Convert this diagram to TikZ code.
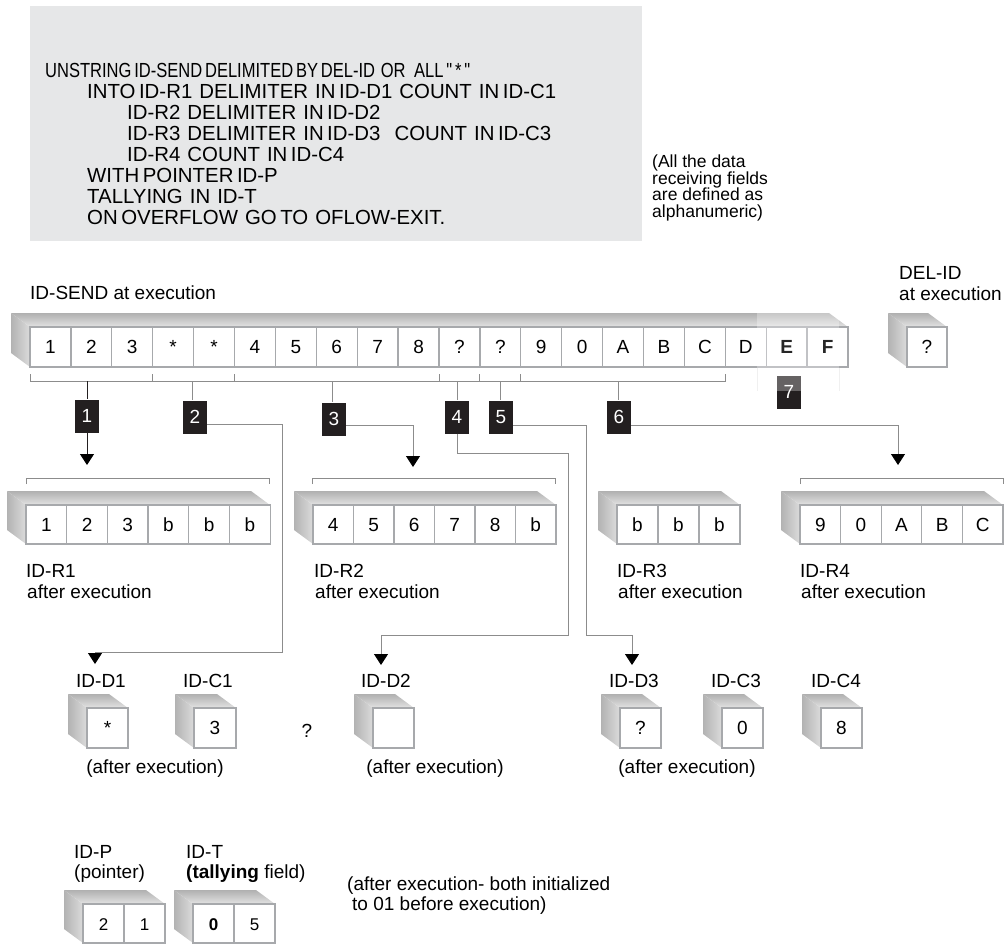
\documentclass[tikz,border=0pt]{standalone}
\usepackage{fontspec}
\setmainfont{Liberation Sans}
\newfontfamily\codefont[WordSpace=0.62]{Liberation Sans}
\newfontfamily\codefontnarrow[WordSpace=0.62,FakeStretch=0.81]{Liberation Sans}
\usetikzlibrary{arrows.meta,calc}
\definecolor{boxgray}{HTML}{E6E7E8}
\definecolor{linegray}{HTML}{8C8C8C}
\definecolor{cellgray}{HTML}{A7A9AC}
\definecolor{lblack}{HTML}{231F20}
\newcommand\mycube[4]{%
  \shade[left color=gray!60, right color=gray!28] ({#1-19},{#2-14}) -- (#1,#2) -- (#1,{#2+#4}) -- ({#1-19},{#2+#4-14}) -- cycle;
  \shade[top color=gray!62, bottom color=gray!22] ({#1-19},{#2-14}) -- ({#1+#3-19},{#2-14}) -- ({#1+#3},#2) -- (#1,#2) -- cycle;
}
\begin{document}
\begin{tikzpicture}[x=1pt,y=-1pt,
  cell/.style={draw=cellgray, line width=1.3pt, fill=white, minimum width=40.9pt, minimum height=40pt, inner sep=0pt, text height=13.6pt, text depth=0pt, font=\fontsize{19}{19}\selectfont},
  lbl/.style={fill=lblack, text=white, minimum width=24pt, minimum height=33pt, inner sep=0pt, font=\fontsize{19}{19}\selectfont},
  lab/.style={inner sep=0pt, font=\fontsize{19}{21}\selectfont},
  note/.style={inner sep=0pt, font=\fontsize{17.5}{19}\selectfont},
  codeline/.style={anchor=base west, inner sep=0pt, font=\codefont\fontsize{20.4}{20}\selectfont},
  brk/.style={draw=linegray, line width=1pt},
  conn/.style={draw=linegray, line width=0.9pt},
  arr/.style={-{Triangle[width=14pt,length=11pt,color=black]}}]
\useasboundingbox (0,0) rectangle (1008,943);

% code box
\node[fill=boxgray, anchor=north west, minimum width=612pt, minimum height=235pt, inner sep=0pt] (code) at (30,6) {};
\node[codeline, font=\codefontnarrow\fontsize{20.4}{20}\selectfont] (l1) at (45,77.3) {UNSTRING ID-SEND DELIMITED BY DEL-ID\ \ OR\ \ \ ALL " * "};
\node[codeline] (l2) at (87,98.3) {INTO ID-R1\ \ DELIMITER\ \ IN ID-D1\ \ COUNT\ \ IN ID-C1};
\node[codeline] (l3) at (127,119.3) {ID-R2\ \ DELIMITER\ \ IN ID-D2};
\node[codeline] (l4) at (127,140.3) {ID-R3\ \ DELIMITER\ \ IN ID-D3\ \ \ \ COUNT\ \ IN ID-C3};
\node[codeline] (l5) at (127,161.3) {ID-R4\ \ COUNT\ \ IN ID-C4};
\node[codeline] (l6) at (87,182.3) {WITH POINTER ID-P};
\node[codeline] (l7) at (87,203.3) {TALLYING\ \ IN\ \ ID-T};
\node[codeline] (l8) at (87,224.3) {ON OVERFLOW\ \ GO TO\ \ OFLOW-EXIT.};

% right note
\node[note, anchor=base west] (n1) at (652,167.5) {(All the data};
\node[note, anchor=base west] (n2) at (652,184) {receiving fields};
\node[note, anchor=base west] (n3) at (652,200.5) {are defined as};
\node[note, anchor=base west] (n4) at (652,217) {alphanumeric)};

% ID-SEND
\node[lab, anchor=base west] (sendlab) at (30,299) {ID-SEND at execution};
\mycube{30}{327}{818}{40}
\foreach \t [count=\i] in {1,2,3,*,*,4,5,6,7,8,?,?,9,0,A,B,C,D,{},{}}
  \node[cell] (s\i) at ({30+40.9*(\i-0.5)},347) {\t};

% DEL-ID
\node[lab, anchor=base west] (dellab1) at (899,279) {DEL-ID};
\node[lab, anchor=base west] (dellab2) at (899,300) {at execution};
\mycube{907}{327}{40}{40}
\node[cell, minimum width=40pt] (del) at (927,347) {?};

% brackets under ID-SEND
\draw[brk] (30,374) -- (30,381) -- (725.3,381) -- (725.3,374);
\foreach \bx in {152.7,234.5,439,479.9,520.8} \draw[brk] (\bx,374) -- (\bx,381);
\coordinate (m1) at (87,381);
\coordinate (m2) at (192.5,381);
\coordinate (m3) at (332,381);
\coordinate (m4) at (457,381);
\coordinate (m5) at (500,381);
\coordinate (m6) at (618.5,381);

% label boxes
\node[lbl] (b1) at (87,416) {1};
\node[lbl] (b2) at (195,417) {2};
\node[lbl] (b3) at (334,419) {3};
\node[lbl] (b4) at (457,417) {4};
\node[lbl] (b5) at (501,417) {5};
\node[lbl] (b6) at (619,417) {6};
\node[lbl] (b7) at (789,392) {7};

\draw[line width=1pt, draw=lblack] (m1) -- (b1.north);
\draw[conn] (m2) -- (m2 |- b2.north);
\draw[conn] (m3) -- (m3 |- b3.north);
\draw[conn] (m4) -- (m4 |- b4.north);
\draw[conn] (m5) -- (m5 |- b5.north);
\draw[conn] (m6) -- (m6 |- b6.north);

% overlay on E F
\fill[white, opacity=0.3] (757,311) rectangle (839,391);
\draw[gray!12, line width=0.6pt] (757,368) -- (757,391) (839,368) -- (839,391);
\node[inner sep=0pt, text height=13.6pt, text depth=0pt, font=\bfseries\fontsize{19}{19}\selectfont, text=black!85] (eE) at (s19) {E};
\node[inner sep=0pt, text height=13.6pt, text depth=0pt, font=\bfseries\fontsize{19}{19}\selectfont, text=black!85] (eF) at (s20) {F};

% arrow targets
\coordinate (r1tip) at (87,465);
\coordinate (r2tip) at (413,467);
\coordinate (r4tip) at (898,465);
\coordinate (k2) at (282,652);
\coordinate (d1tip) at (95,664);
\coordinate (k4a) at (568,453);
\coordinate (k4b) at (381,635);
\coordinate (d2tip) at (381,665);
\coordinate (k5) at (586,635);
\coordinate (d3tip) at (632,665);

\draw[line width=1pt, draw=lblack, arr] (b1.south) -- (r1tip);
\draw[conn, arr] ([yshift=-7pt]b2.east) -| (k2) -| (d1tip);
\draw[conn, arr] ([yshift=-6pt]b3.east) -| (r2tip);
\draw[conn, arr] (b4.south) |- (k4a) |- (k4b) -- (d2tip);
\draw[conn, arr] ([yshift=-8pt]b5.east) -| (k5) -| (d3tip);
\draw[conn, arr] ([yshift=-8.7pt]b6.east) -| (r4tip);

% R brackets
\draw[brk] (26,484) -- (26,478) -- (269,478) -- (269,484);
\draw[brk] (312,484) -- (312,478) -- (555,478) -- (555,484);
\draw[brk] (800,484) -- (800,478) -- (1003,478) -- (1003,484);

% R1
\mycube{26}{505}{244}{39}
\foreach \t [count=\i] in {1,2,3,b,b,b}
  \node[cell, minimum width=40.7pt, minimum height=39pt] (ra\i) at ({26+40.7*(\i-0.5)},524.5) {\t};
\node[lab, anchor=base west] (ra) at (26,577) {ID-R1};
\node[lab, anchor=base west] (rax) at (27,598) {after execution};
% R2
\mycube{313}{505}{243}{39}
\foreach \t [count=\i] in {4,5,6,7,8,b}
  \node[cell, minimum width=40.5pt, minimum height=39pt] (rb\i) at ({313+40.5*(\i-0.5)},524.5) {\t};
\node[lab, anchor=base west] (rb) at (314,577) {ID-R2};
\node[lab, anchor=base west] (rbx) at (315,598) {after execution};
% R3
\mycube{617}{505}{123}{39}
\foreach \t [count=\i] in {b,b,b}
  \node[cell, minimum width=41pt, minimum height=39pt] (rc\i) at ({617+41*(\i-0.5)},524.5) {\t};
\node[lab, anchor=base west] (rc) at (617,577) {ID-R3};
\node[lab, anchor=base west] (rcx) at (618,598) {after execution};
% R4
\mycube{800}{505}{203}{39}
\foreach \t [count=\i] in {9,0,A,B,C}
  \node[cell, minimum width=40.6pt, minimum height=39pt] (rd\i) at ({800+40.6*(\i-0.5)},524.5) {\t};
\node[lab, anchor=base west] (rd) at (800,577) {ID-R4};
\node[lab, anchor=base west] (rdx) at (801,598) {after execution};

% D / C cubes
\node[lab, anchor=base] (d1l) at (101,687.5) {ID-D1};
\mycube{87}{708}{41}{40}
\node[cell, minimum width=41pt] (d1) at (107.5,728) {*};
\node[lab, anchor=base] (c1l) at (208,687.5) {ID-C1};
\mycube{194}{708}{42}{40}
\node[cell, minimum width=42pt] (c1) at (215,728) {3};
\node[lab, anchor=base] (qm) at (307,737) {?};
\node[lab, anchor=base] (ae1) at (155,773) {(after execution)};

\node[lab, anchor=base] (d2l) at (386,687.5) {ID-D2};
\mycube{373}{708}{41}{40}
\node[cell, minimum width=41pt] (d2) at (393.5,728) {};
\node[lab, anchor=base] (ae2) at (435,773) {(after execution)};

\node[lab, anchor=base] (d3l) at (634,687.5) {ID-D3};
\mycube{620}{708}{41}{40}
\node[cell, minimum width=41pt] (d3) at (640.5,728) {?};
\node[lab, anchor=base] (c3l) at (736,687.5) {ID-C3};
\mycube{722}{708}{41}{40}
\node[cell, minimum width=41pt] (c3) at (742.5,728) {0};
\node[lab, anchor=base] (c4l) at (836,687.5) {ID-C4};
\mycube{821}{708}{41}{40}
\node[cell, minimum width=41pt] (c4) at (841.5,728) {8};
\node[lab, anchor=base] (ae3) at (687,773) {(after execution)};

% bottom
\node[lab, anchor=base west] (pl1) at (74,858.5) {ID-P};
\node[lab, anchor=base west] (pl2) at (74,878) {(pointer)};
\mycube{83}{904}{82}{39}
\node[cell, minimum width=41pt, minimum height=39pt, font=\fontsize{17}{17}\selectfont] (p1) at (103.5,923.5) {2};
\node[cell, minimum width=41pt, minimum height=39pt, font=\fontsize{17}{17}\selectfont] (p2) at (144.5,923.5) {1};
\node[lab, anchor=base west] (tl1) at (186,858.5) {ID-T};
\node[lab, anchor=base west] (tl2) at (186,878) {{\bfseries(tallying} field)};
\mycube{193}{904}{82}{39}
\node[cell, minimum width=41pt, minimum height=39pt, font=\bfseries\fontsize{17}{17}\selectfont] (t1) at (213.5,923.5) {0};
\node[cell, minimum width=41pt, minimum height=39pt, font=\fontsize{17}{17}\selectfont] (t2) at (254.5,923.5) {5};
\node[lab, anchor=base west] (bn1) at (347,890) {(after execution- both initialized};
\node[lab, anchor=base west] (bn2) at (352,910) {to 01 before execution)};
\end{tikzpicture}
\end{document}
